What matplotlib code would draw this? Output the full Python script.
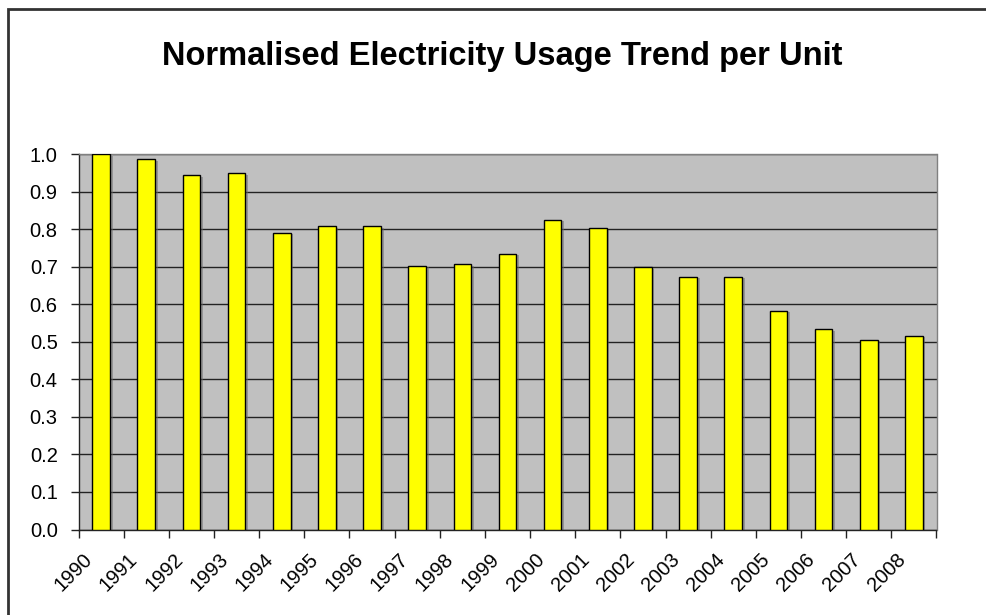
import matplotlib
matplotlib.use("Agg")
import matplotlib.pyplot as plt
import numpy as np
from matplotlib.patches import Rectangle
from matplotlib.transforms import ScaledTranslation

plt.rcParams['font.family'] = ['Liberation Sans', 'DejaVu Sans']

years = ['1990', '1991', '1992', '1993', '1994', '1995', '1996', '1997', '1998', '1999',
         '2000', '2001', '2002', '2003', '2004', '2005', '2006', '2007', '2008']
usage = [1.000, 0.986, 0.943, 0.949, 0.790, 0.807, 0.807, 0.702, 0.707, 0.734,
         0.825, 0.802, 0.699, 0.673, 0.673, 0.582, 0.533, 0.505, 0.516]
y_ticks = [0.0, 0.1, 0.2, 0.3, 0.4, 0.5, 0.6, 0.7, 0.8, 0.9, 1.0]

W, H = 986, 615
fig = plt.figure(figsize=(W / 100, H / 100), dpi=100)

# chart frame (top and left edges inside the canvas)
fig.patches.append(Rectangle((7.5 / W, -0.05), 1.2, 1.05 - 9 / H,
                             transform=fig.transFigure, fill=False,
                             edgecolor='#333333', linewidth=2.0))

left, right, top, bottom = 78.5, 936.5, 154, 529.5
ax = fig.add_axes([left / W, 1 - bottom / H, (right - left) / W, (bottom - top) / H])
ax.set_facecolor('#c0c0c0')

x = np.arange(len(years))
# faint drop shadow behind each bar
ax.bar(x + 0.06, usage, width=0.39, color='#6a6a6a', alpha=0.5, zorder=2,
       transform=ax.transData + ScaledTranslation(0, -1.5 / 100, fig.dpi_scale_trans))
ax.bar(x, usage, width=0.39, color='#ffff00', edgecolor='black', linewidth=1.0, zorder=3)

ax.set_xlim(-0.5, len(years) - 0.5)
ax.set_ylim(0, 1.0)
ax.set_yticks(y_ticks)
ax.set_yticklabels([f'{v:.1f}' for v in y_ticks], fontsize=14.5)
ax.yaxis.grid(True, color='#222222', linewidth=1.0, zorder=1)
ax.set_axisbelow(True)

# category boundary ticks
ax.set_xticks(np.arange(len(years) + 1) - 0.5)
ax.set_xticklabels([])
ax.tick_params(axis='x', which='major', length=6, width=1, direction='out', color='#222222')
ax.tick_params(axis='y', length=6, width=1, direction='out', color='#222222', pad=9)

# rotated year labels hanging below each category
label_tf = ax.get_xaxis_transform() + ScaledTranslation(-11.5 / 100, -27 / 100, fig.dpi_scale_trans)
for xi, yr in zip(x, years):
    ax.text(xi, 0, yr, transform=label_tf, rotation=45, rotation_mode='anchor',
            ha='right', va='center', fontsize=14.5, clip_on=False)

for side in ['left', 'bottom']:
    ax.spines[side].set_color('#222222')
    ax.spines[side].set_linewidth(1.0)
for side in ['top', 'right']:
    ax.spines[side].set_color('#808080')
    ax.spines[side].set_linewidth(1.0)

fig.text(502 / W, 1 - 57 / H, 'Normalised Electricity Usage Trend per Unit',
         ha='center', va='center', fontsize=23.5, fontweight='bold')

fig.savefig('out.png', dpi=100)
